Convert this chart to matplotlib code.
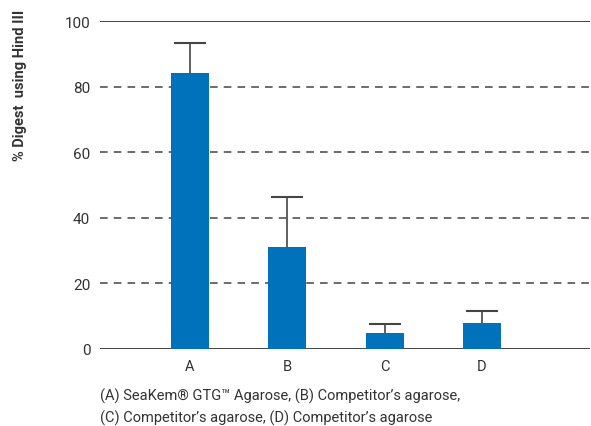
import matplotlib.pyplot as plt
import numpy as np

categories = ["A", "B", "C", "D"]
digest = [84, 31, 5, 8]
upper_err = [9.3, 15.3, 2.7, 3.7]
yticks = [0, 20, 40, 60, 80, 100]
caption = ["(A) SeaKem\u00ae GTG\u2122 Agarose, (B) Competitor\u2019s agarose,",
           "(C) Competitor\u2019s agarose, (D) Competitor\u2019s agarose"]

plt.rcParams["font.family"] = ["Roboto", "DejaVu Sans"]

fig = plt.figure(figsize=(5.91, 4.27), dpi=100)
ax = fig.add_axes([100 / 591, (427 - 350) / 427, 490 / 591, 328 / 427])

x = np.arange(len(categories))
ax.bar(x, digest, width=0.39, color="#0072bc", zorder=3)
eb = ax.errorbar(x, digest, yerr=[np.zeros(len(digest)), upper_err], fmt="none",
                 ecolor="#444444", elinewidth=1.2, capsize=11.5, capthick=1.5,
                 zorder=2)
# only the upper cap is shown
eb[1][0].set_visible(False)
eb[1][1].set_color("#777777")

ax.set_xlim(-0.925, 4.11)
ax.set_ylim(0, 100)
ax.set_yticks(yticks)
ax.set_xticks(x)
ax.set_xticklabels(categories)

for v in yticks:
    if v in (0, 100):
        ax.axhline(v, color="#222222", lw=1.2, zorder=1)
    else:
        ax.axhline(v, color="#444444", lw=1.1, ls=(0, (5, 4)), zorder=1)

for s in ax.spines.values():
    s.set_visible(False)
ax.tick_params(axis="y", length=0, labelsize=11, colors="#333333", pad=7)
ax.tick_params(axis="x", length=0, labelsize=10.5, colors="#333333", pad=7)

fig.text(20 / 591, 1 - 10 / 427, "% Digest  using Hind III", rotation=90,
         ha="center", va="top", fontsize=10.5, fontweight="bold", color="#333333")
fig.text(100 / 591, 1 - 396 / 427, caption[0], ha="left", va="center",
         fontsize=10.5, color="#333333")
fig.text(100 / 591, 1 - 418 / 427, caption[1], ha="left", va="center",
         fontsize=10.5, color="#333333")

fig.savefig("out.png", dpi=100)
